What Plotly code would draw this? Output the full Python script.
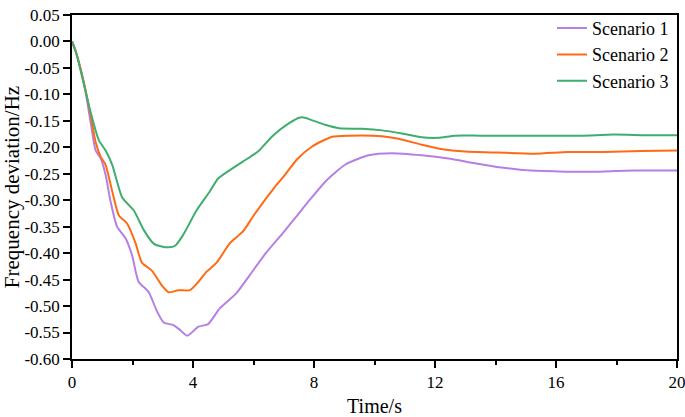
import plotly.graph_objects as go

# ---- data ----
t_s1 = [0, 0.13, 0.40, 0.62, 0.78, 0.95, 1.11, 1.27, 1.49, 1.77, 1.99, 2.20, 2.53, 2.81, 3.03, 3.35, 3.57, 3.81,
        4.18, 4.50, 4.89, 5.43, 5.87, 6.42, 6.97, 7.40, 7.85, 8.39, 9.05, 9.81, 10.58, 11.56, 12.44, 13.32,
        14.19, 15.17, 16.3, 17.4, 18.6, 20.0]
y_s1 = [0, -0.02, -0.08, -0.154, -0.206, -0.221, -0.252, -0.301, -0.350, -0.372, -0.405, -0.454, -0.473, -0.510,
        -0.531, -0.536, -0.545, -0.556, -0.539, -0.534, -0.504, -0.476, -0.442, -0.399, -0.362, -0.332, -0.300,
        -0.264, -0.232, -0.215, -0.211, -0.215, -0.221, -0.230, -0.238, -0.244, -0.246, -0.246, -0.244, -0.244]

t_s2 = [0, 0.13, 0.40, 0.62, 0.78, 0.95, 1.11, 1.33, 1.55, 1.82, 2.10, 2.31, 2.64, 2.97, 3.19, 3.52, 3.90, 4.18,
        4.45, 4.78, 5.22, 5.65, 6.04, 6.69, 7.0, 7.45, 7.95, 8.6, 9.15, 10.25, 10.8, 11.56, 12.2, 13.0, 14.1,
        15.3, 16.4, 17.6, 18.8, 20.0]
y_s2 = [0, -0.02, -0.08, -0.141, -0.190, -0.218, -0.233, -0.283, -0.329, -0.344, -0.381, -0.418, -0.433, -0.461,
        -0.474, -0.470, -0.470, -0.454, -0.435, -0.418, -0.381, -0.359, -0.326, -0.276, -0.255, -0.222, -0.198,
        -0.180, -0.178, -0.179, -0.184, -0.195, -0.203, -0.208, -0.210, -0.212, -0.209, -0.209, -0.207, -0.206]

t_s3 = [0, 0.13, 0.34, 0.62, 0.89, 1.11, 1.33, 1.66, 2.04, 2.37, 2.70, 3.0, 3.19, 3.41, 3.68, 4.12, 4.56, 4.83,
        5.22, 5.65, 6.15, 6.64, 7.19, 7.51, 7.7, 7.95, 8.4, 8.83, 9.59, 10.25, 10.91, 11.56, 12.11, 12.66, 13.5,
        15.2, 16.8, 17.9, 19.0, 20.0]
y_s3 = [0, -0.02, -0.068, -0.135, -0.187, -0.206, -0.233, -0.295, -0.319, -0.356, -0.382, -0.388, -0.389, -0.386,
        -0.365, -0.319, -0.283, -0.259, -0.243, -0.227, -0.208, -0.178, -0.154, -0.144, -0.144, -0.149, -0.158,
        -0.164, -0.165, -0.168, -0.174, -0.181, -0.182, -0.178, -0.178, -0.178, -0.178, -0.176, -0.177, -0.177]

series_names = ["Scenario 1", "Scenario 2", "Scenario 3"]
series_colors = ["#B57FE3", "#FF6A14", "#3DAE6E"]

x_tick_vals = [0, 4, 8, 12, 16, 20]
x_tick_text = ["0", "4", "8", "12", "16", "20"]
y_tick_vals = [0.05, 0.0, -0.05, -0.10, -0.15, -0.20, -0.25, -0.30, -0.35, -0.40, -0.45, -0.50, -0.55, -0.60]
y_tick_text = ["0.05", "0.00", "-0.05", "-0.10", "-0.15", "-0.20", "-0.25", "-0.30", "-0.35", "-0.40",
               "-0.45", "-0.50", "-0.55", "-0.60"]

FONT = "Liberation Serif"

fig = go.Figure()
for t, y, name, col in zip([t_s1, t_s2, t_s3], [y_s1, y_s2, y_s3], series_names, series_colors):
    fig.add_trace(go.Scatter(x=t, y=y, mode="lines", name=name,
                             line=dict(color=col, width=2, shape="spline", smoothing=0.6)))

fig.update_layout(
    width=685, height=417,
    margin=dict(l=68, r=8, t=6, b=58),
    paper_bgcolor="white", plot_bgcolor="white",
    font=dict(family=FONT, size=17, color="black"),
    showlegend=True,
    legend=dict(x=0.995, xanchor="right", y=1.015, yanchor="top",
                bgcolor="rgba(0,0,0,0)", font=dict(family=FONT, size=18, color="black"),
                tracegroupgap=0),
    xaxis=dict(range=[0, 20], tickvals=x_tick_vals, ticktext=x_tick_text, automargin=False,
               ticklabeloverflow="allow",
               showgrid=False, zeroline=False, showline=True, linecolor="black", linewidth=1.5,
               mirror=True, ticks="outside", ticklen=7, tickwidth=1.5, tickcolor="black",
               minor=dict(dtick=2, ticks="outside", ticklen=4, tickwidth=1.5, tickcolor="black"),
               tickfont=dict(family=FONT, size=17),
               title=dict(text="Time/s", font=dict(family=FONT, size=20), standoff=18)),
    yaxis=dict(range=[-0.6, 0.050001], tickvals=y_tick_vals, ticktext=y_tick_text, automargin=True,
               ticklabeloverflow="allow",
               showgrid=False, zeroline=False, showline=True, linecolor="black", linewidth=1.5,
               mirror=True, ticks="outside", ticklen=7, tickwidth=1.5, tickcolor="black",
               tickfont=dict(family=FONT, size=17),
               title=dict(text="Frequency deviation/Hz", font=dict(family=FONT, size=21), standoff=4)),
)

fig.write_html("out.html")
